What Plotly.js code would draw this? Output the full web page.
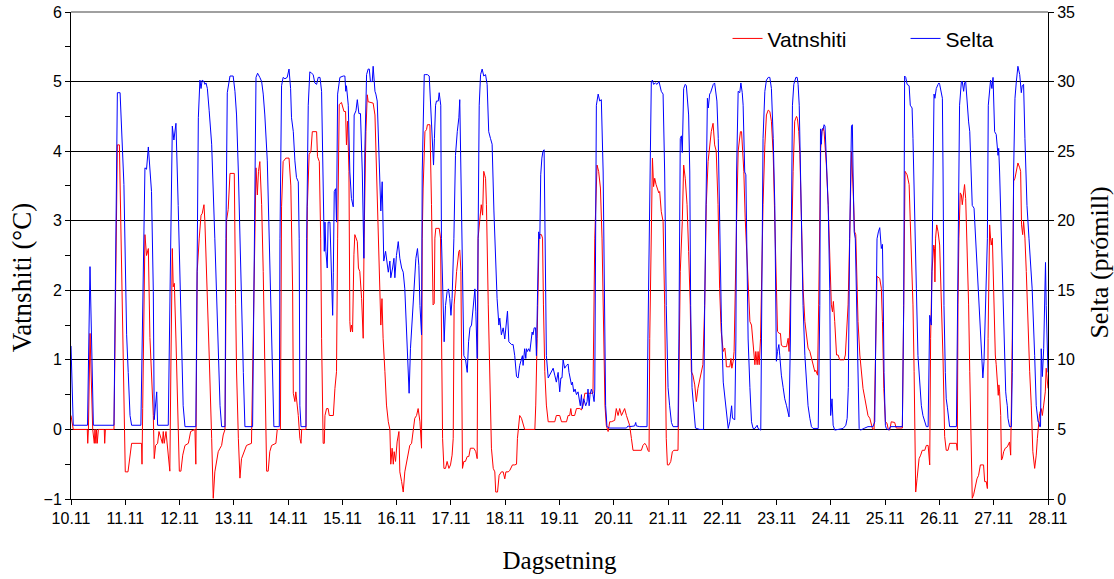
<!DOCTYPE html>
<html>
<head>
<meta charset="utf-8">
<script src="https://cdn.plot.ly/plotly-3.0.1.min.js"></script>
<style>
  html, body { margin: 0; padding: 0; background: #fff; }
  #chart { width: 1114px; height: 579px; }
</style>
</head>
<body>
<div id="chart"></div>
<script>
// x = hours since 10.11 00:00
const dayLabels = ['10.11', '11.11', '12.11', '13.11', '14.11', '15.11', '16.11', '17.11', '18.11', '19.11',
                   '20.11', '21.11', '22.11', '23.11', '24.11', '25.11', '26.11', '27.11', '28.11'];

// Vatnshiti (°C) [hour, value]
const vatnshitiReadings = [
  [0, 0.2], [1, 0], [7.2, 0], [7.4, -0.2], [7.7, 0], [8.4, 1.38], [9.6, 0], [10.3, -0.2], [10.6, 0], [11, -0.2],
  [11.3, 0], [11.6, -0.2], [12.1, 0], [14.7, 0], [14.9, -0.2], [15.2, 0], [19, 0], [20.5, 4.09], [21.4, 4.09],
  [22.4, 2.03], [23.1, 1.2], [24, -0.61], [25.2, -0.61], [26.1, -0.32], [26.8, -0.2], [31.2, -0.2], [31.4, -0.5],
  [31.7, 0.3], [32.7, 2.8], [33.4, 2.5], [34.2, 2.6], [34.9, 1.32], [36.4, 0.2], [36.8, -0.42], [37.4, -0.23],
  [38.3, -0.2], [38.9, -0.03], [39.8, -0.13], [40.4, -0.2], [40.8, -0.03], [41.2, -0.2], [42, -0.03], [42.6, -0.22],
  [43.7, -0.6], [44.2, 1.0], [44.8, 2.6], [45.2, 2.05], [45.7, 2.1], [46.4, 1.3], [47.9, -0.6], [48.6, -0.6],
  [49.4, -0.37], [50.4, -0.23], [51.9, -0.2], [52.9, -0.03], [54.8, 0], [55.2, -0.5], [55.8, 2.27], [56.7, 2.75],
  [57.5, 3.08], [58, 3.1], [58.8, 3.23], [59.2, 2.99], [60, 2.27], [61.1, 1.07], [62.2, -0.13], [62.9, -0.99],
  [63.6, -0.61], [64.4, -0.42], [65.1, -0.32], [65.9, -0.27], [66.6, -0.23], [67.3, -0.08], [68.1, 0], [68.8, 3.01],
  [69.5, 3.16], [70.3, 3.68], [72.2, 3.68], [72.8, 1.8], [73.2, 0.84], [74, -0.13], [74.7, -0.7], [75.4, -0.42],
  [76.2, -0.35], [76.9, -0.27], [77.6, -0.23], [79.8, -0.2], [80.6, 1.3], [81.3, 3.23], [81.8, 3.76], [82.4, 3.37],
  [82.9, 3.71], [83.5, 3.85], [84.3, 3.23], [85, 2.27], [85.7, 0.84], [86.5, -0.6], [87.2, -0.6], [87.9, -0.32],
  [88.7, -0.23], [90.6, -0.2], [91.2, 0], [92.6, 0], [93.1, 3.2], [93.8, 3.85], [95, 3.9], [96.4, 3.9],
  [97.2, 3.5], [98, 2.0], [98.3, 0.52], [99, 0.4], [99.4, 0.54], [100, 0.35], [100.5, 0.2], [101.2, -0.13],
  [101.7, -0.2], [102, 0], [103.9, 0], [104.5, 3.2], [105.3, 3.95], [106.1, 4.0], [106.7, 4.28], [108.6, 4.28],
  [109, 3.92], [109.8, 3.85], [110.4, 2.75], [110.8, 1.31], [111.5, -0.2], [112, -0.2], [112.3, 0.2], [113, 0.3],
  [113.7, 0.3], [114.2, 0.2], [116, 0.2], [116.7, 0.59], [117.4, 0.83], [117.9, 2.75], [118.6, 4.67], [119.6, 4.7],
  [120.7, 4.57], [121.4, 4.57], [121.8, 4.09], [122.3, 4.43], [122.9, 3.71], [123.3, 1.55], [123.6, 1.4], [124, 1.5],
  [124.5, 1.4], [125.1, 2.51], [125.5, 2.8], [126.6, 2.7], [127.1, 2.32], [127.7, 2.27], [128.5, 1.88], [129.2, 1.31],
  [129.6, 2.75], [130.4, 4.28], [131, 4.81], [131.4, 4.71], [133.6, 4.69], [134.4, 4.52], [135.1, 3.71], [135.8, 2.75],
  [136.6, 1.79], [137, 1.5], [137.5, 1.88], [138, 1.31], [138.8, 0.83], [139.5, 0.35], [140.3, 0.11], [141, 0],
  [141.4, -0.5], [142, -0.27], [142.5, -0.5], [142.9, -0.32], [143.5, -0.46], [144.2, -0.18], [145, -0.03],
  [145.4, -0.61], [146.2, -0.75], [146.9, -0.9], [147.6, -0.61], [148.4, -0.46], [149.1, -0.32], [149.8, -0.23],
  [150.6, -0.2], [151.3, 0.01], [152, 0.16], [152.8, 0.2], [153.5, 0.3], [154.3, 0.11], [155, -0.27], [155.3, 2.75],
  [155.7, 3.47], [156.5, 4.28], [157.2, 4.31], [157.6, 4.38], [158.7, 4.38], [159.4, 3.23], [160.1, 1.79],
  [160.6, 1.81], [160.9, 2.75], [161.3, 2.89], [162.8, 2.89], [163.4, 2.75], [163.8, 1.31], [164.3, -0.13],
  [164.9, -0.56], [165.6, -0.56], [166.3, -0.46], [167.1, -0.56], [167.8, -0.51], [168.5, -0.37], [169, -0.13],
  [169.4, 1.79], [170, 2.03], [170.5, 2.27], [171.5, 2.56], [171.9, 2.58], [172.4, 2.27], [172.7, 0.83], [173.1, -0.56],
  [173.7, -0.46], [174.4, -0.46], [175.2, -0.39], [175.9, -0.39], [176.6, -0.27], [178.1, -0.27], [179, -0.32],
  [179.6, -0.42], [180, 2.75], [180.8, 2.99], [181.4, 3.23], [182, 3.08], [182.5, 3.71], [183.3, 3.61], [183.7, 3.23],
  [184.5, 1.79], [185.2, 0.83], [185.9, -0.27], [186.7, -0.56], [187.4, -0.61], [187.8, -0.9], [188.6, -0.9],
  [189.3, -0.66], [190.3, -0.61], [191.1, -0.61], [191.8, -0.71], [192.3, -0.61], [193.3, -0.61], [194, -0.59],
  [195.2, -0.51], [196.2, -0.51], [197, -0.5], [197.4, -0.13], [198, 0.16], [198.4, 0.2], [199.2, 0.16], [199.9, 0.06],
  [200.6, 0], [205.1, 0], [205.5, 0.35], [206.1, 1.31], [206.5, 2.27], [207, 2.8], [208, 2.8], [208.5, 2.75],
  [208.9, 1.79], [209.5, 0.83], [210.2, 0.35], [211, 0.11], [213.9, 0.11], [214.6, 0.2], [216.1, 0.2], [216.9, 0.11],
  [219.1, 0.11], [219.8, 0.2], [220.5, 0.2], [221, 0.3], [221.4, 0.2], [222.7, 0.2], [223.5, 0.3], [225, 0.3],
  [225.7, 0.28], [226.4, 0.35], [227.2, 0.52], [230.8, 0.52], [231.6, 2.75], [232, 3.23], [232.6, 3.8], [233.3, 3.71],
  [234.1, 3.47], [234.8, 2.75], [235.6, 1.31], [236.1, 0.35], [236.7, 0.06], [237.5, -0.03], [238.2, 0.11],
  [238.9, 0.11], [240.4, 0.13], [241.1, 0.3], [241.9, 0.2], [242.6, 0.3], [243.4, 0.2], [244.1, 0.25], [244.8, 0.3],
  [245.6, 0.2], [246.3, 0.11], [247, 0.06], [247.8, -0.13], [248.5, -0.3], [252.2, -0.3], [252.9, -0.23],
  [253.7, -0.2], [254.4, -0.23], [255.1, -0.3], [255.6, -0.32], [255.9, 1.31], [256.6, 3.23], [257.1, 3.9],
  [257.6, 3.49], [258.1, 3.61], [258.7, 3.52], [259.3, 3.47], [259.9, 3.4], [260.3, 3.42], [261, 3.13], [261.8, 2.99],
  [262.5, 1.79], [263.2, -0.13], [263.7, -0.51], [264.4, -0.51], [265.2, -0.46], [265.9, -0.32], [266.6, -0.3],
  [268.4, -0.3], [268.8, 0.83], [269.4, 2.27], [270.3, 2.99], [270.9, 3.8], [271.6, 3.61], [272.4, 3.23], [273.1, 2.56],
  [273.8, 1.79], [274.3, 0.83], [275, 0.78], [275.8, 0.64], [276.5, 0.4], [277.2, 0.59], [278, 0.73], [278.7, 0.83],
  [279.4, 0.93], [280.2, 1.79], [280.9, 3.23], [281.7, 3.85], [282.4, 4.09], [283.1, 4.28], [283.9, 4.4], [284.6, 4.09],
  [285.3, 4.0], [286.1, 3.23], [286.8, 2.03], [287.5, 1.41], [288.4, 1.12], [289.1, 1.17], [289.6, 1.02], [289.8, 0.9],
  [291.3, 0.9], [291.8, 1.02], [292.2, 0.88], [292.8, 0.98], [293.2, 1.12], [293.7, 1.79], [294.3, 2.99], [295, 4.0],
  [295.4, 4.09], [296, 4.28], [296.5, 4.28], [296.9, 4.09], [297.5, 3.71], [298.1, 3.04], [298.7, 2.65], [299.4, 2.03],
  [300.2, 1.55], [300.9, 1.5], [301.6, 1.17], [302.4, 0.93], [302.8, 1.12], [303.4, 0.93], [303.8, 1.12], [304.3, 0.93],
  [304.9, 1.31], [305.3, 2.03], [306, 3.23], [306.8, 4.09], [307.5, 4.52], [308.3, 4.59], [309, 4.57], [309.7, 4.43],
  [310.5, 3.95], [311.2, 2.99], [311.9, 2.03], [312.4, 1.41], [313.1, 1.38], [313.7, 1.38], [314.1, 1.21],
  [314.9, 1.19], [316.4, 1.19], [317.1, 1.31], [317.5, 1.12], [318.1, 1.79], [318.7, 2.75], [319.3, 3.71], [320, 4.43],
  [320.8, 4.5], [321.2, 4.47], [321.8, 4.28], [322.3, 3.95], [323, 2.99], [323.7, 2.03], [324.5, 1.55], [325.2, 1.31],
  [325.9, 1.17], [326.7, 1.12], [327.4, 1.02], [328.1, 0.9], [328.9, 0.83], [329.3, 0.85], [330.1, 0.78], [330.6, 1.79],
  [331.1, 3.23], [331.5, 4.04], [332, 4.28], [332.6, 4.33], [333, 4.28], [333.4, 4.09], [334, 3.8], [334.8, 3.23],
  [335.5, 2.51], [336.2, 1.79], [336.7, 1.69], [337.1, 1.84], [337.7, 1.55], [338.5, 1.07], [339.2, 1.07], [339.9, 1.0],
  [341.1, 1.0], [341.8, 1.0], [342.4, 1.07], [342.9, 1.31], [343.6, 1.79], [344.3, 2.75], [345.1, 4.0], [345.8, 3.47],
  [346.5, 2.84], [347, 2.8], [347.3, 2.27], [348, 1.55], [348.8, 1.07], [349.5, 0.83], [350.2, 0.59], [351, 0.45],
  [351.7, 0.3], [352.4, 0.2], [353.2, 0.16], [353.9, 0.09], [354.4, 0.01], [355.1, 0], [355.8, 1.31], [356.4, 2.2],
  [357.6, 2.17], [358.3, 2.03], [358.8, 1.55], [359.4, 0.59], [360.1, 0.11], [360.8, 0.09], [361.3, 0.01], [362, -0.01],
  [362.7, 0.11], [364.2, 0.1], [364.9, 0.02], [367.6, 0.02], [368.2, 1.79], [368.8, 3.71], [369.7, 3.66], [370.6, 3.52],
  [371.1, 2.99], [371.9, 2.27], [372.3, 1.79], [372.8, 0.83], [373.2, -0.13], [373.5, -0.9], [374.1, -0.71],
  [374.5, -0.51], [375, -0.42], [375.7, -0.37], [376.4, -0.3], [377.5, -0.3], [378.2, -0.23], [379, -0.23],
  [379.7, -0.51], [380.1, 1.31], [380.7, 2.27], [381.5, 2.65], [381.8, 2.6], [382, 2.12], [382.3, 2.75], [382.8, 2.94],
  [383.4, 2.84], [384.1, 2.65], [384.8, 2.0], [385.6, 1.0], [386.3, -0.1], [387, -0.3], [387.8, -0.3], [388.5, -0.2],
  [391.5, -0.2], [391.9, -0.3], [392.2, 1.79], [392.6, 2.75], [393.2, 3.4], [393.7, 3.37], [394.1, 3.23], [394.7, 3.42],
  [395.1, 3.52], [395.6, 3.32], [396.2, 2.75], [396.9, 1.79], [397.4, 0.83], [398.1, -0.51], [398.5, -0.99],
  [399.1, -0.94], [399.9, -0.8], [400.6, -0.71], [401.3, -0.66], [402.1, -0.51], [403.5, -0.51], [404, -0.75],
  [404.7, -0.75], [405.2, -0.85], [405.5, 1.31], [405.9, 2.75], [406.2, 2.94], [406.6, 2.75], [406.9, 2.65],
  [407.4, 2.75], [408, 1.79], [408.7, 1.07], [409.1, 0.93], [409.6, 0.73], [410, 0.49], [410.3, 0.64], [410.6, 0.54],
  [411.1, 0.2], [411.4, -0.44], [411.8, -0.42], [412.4, -0.32], [413.1, -0.27], [414, -0.25], [415, -0.18],
  [415.5, -0.37], [416.2, 1.31], [416.8, 3.57], [417.4, 3.61], [418, 3.71], [418.7, 3.83], [419.5, 3.76], [419.9, 3.71],
  [420.3, 2.94], [420.8, 2.8], [421.2, 2.99], [421.8, 2.75], [422.4, 2.27], [423.1, 1.55], [423.9, 0.83], [424.6, 0.35],
  [425, -0.13], [425.3, -0.32], [426.1, -0.56], [426.8, -0.37], [427.3, -0.13], [427.8, 0.11], [428.3, 0.23],
  [429, 0.3], [429.5, 0.2], [430.1, 0.35], [430.8, 0.54], [431.2, 0.88], [431.5, 0.78], [432, 0.59]
];

// Selta (prómill) [hour, value]
const seltaReadings = [
  [0, 11.0], [1, 5.3], [7.3, 5.3], [8.4, 16.7], [9.9, 5.3], [19, 5.3], [20.5, 29.2], [21.7, 29.2], [23.4, 22.6],
  [24.6, 11.8], [25.3, 9.1], [26.1, 6.0], [26.8, 5.3], [30.9, 5.3], [32.7, 23.8], [33.4, 23.7], [34.2, 25.3],
  [35.6, 22.1], [36.4, 14.9], [36.8, 5.7], [37.9, 7.7], [38.3, 5.3], [43, 5.3], [44.8, 26.8], [45.5, 25.8], [46.4, 27.0],
  [47.4, 21.1], [48.2, 15.1], [48.9, 10.3], [49.6, 6.7], [50.4, 5.2], [55.2, 5.2], [56.3, 27.4], [57, 30.1],
  [57.5, 29.5], [58, 30.1], [58.8, 30.0], [59.2, 29.8], [59.7, 29.9], [60.3, 29.5], [61.1, 27.9], [62.2, 25.5],
  [63.6, 18.7], [65.1, 10.3], [65.9, 6.7], [66.6, 5.2], [68.1, 5.2], [68.5, 18.7], [69.1, 29.2], [70.3, 30.4],
  [71.7, 30.4], [72.5, 29.3], [73.2, 27.6], [74, 23.5], [75, 16.3], [76.2, 9.1], [76.9, 5.2], [80.3, 5.2], [81.8, 30.3],
  [82.5, 30.6], [83.5, 30.3], [84.3, 30.0], [85, 29.1], [85.7, 27.6], [86.8, 24.3], [87.9, 17.5], [89.1, 10.3],
  [89.7, 5.2], [92.1, 5.2], [92.4, 18.7], [93.1, 29.7], [93.8, 30.3], [94.6, 30.2], [95.6, 30.3], [96.4, 30.9],
  [97.1, 29.5], [97.5, 27.4], [98.3, 26.4], [99, 24.3], [99.7, 23.1], [100.5, 22.8], [100.9, 18.7], [101.2, 6.7],
  [101.7, 5.2], [103.9, 5.2], [104.2, 18.7], [104.9, 28.3], [105.6, 30.7], [106.4, 30.6], [107.1, 30.5], [107.8, 29.9],
  [108.6, 29.8], [109.3, 30.3], [110.1, 30.3], [110.8, 29.3], [111.5, 23.5], [112, 17.8], [112.3, 19.9], [112.7, 17.8],
  [113.3, 16.6], [113.7, 19.9], [114.5, 19.9], [115.2, 15.6], [115.7, 13.2], [116, 16.3], [116.4, 22.1], [117, 22.3],
  [117.4, 19.9], [117.9, 29.1], [118.9, 30.3], [120.4, 30.4], [121.1, 30.4], [121.5, 29.3], [121.8, 29.7],
  [122.6, 28.3], [123.3, 23.5], [124, 21.6], [124.8, 21.0], [125.2, 27.6], [126, 27.9], [126.6, 28.7], [127.3, 27.7],
  [128, 27.7], [128.8, 23.5], [129.5, 17.3], [129.9, 24.8], [130.7, 30.5], [131.4, 30.9], [131.9, 30.9], [132.4, 30.0],
  [133.2, 30.0], [133.6, 31.1], [134.4, 29.3], [134.8, 29.1], [135.4, 28.6], [136.1, 24.3], [137, 20.7], [137.6, 22.8],
  [138.3, 17.1], [139.1, 17.8], [139.8, 16.6], [140.3, 16.3], [141, 17.1], [141.4, 15.9], [142.2, 16.6], [142.8, 17.3],
  [143.2, 15.9], [143.9, 17.5], [144.7, 18.5], [145.4, 17.3], [146.2, 16.6], [146.9, 16.3], [147.6, 15.1],
  [148.4, 11.5], [149.1, 7.95], [149.5, 7.6], [150.1, 10.8], [150.9, 13.0], [151.6, 15.1], [152.5, 17.3], [153.2, 18.0],
  [153.8, 16.8], [154.3, 13.9], [155, 11.8], [155.3, 23.5], [155.7, 27.6], [156.2, 30.5], [156.9, 30.5], [157.6, 30.5],
  [158.4, 30.4], [159, 28.3], [159.7, 25.9], [160.3, 24.0], [160.7, 25.9], [161.2, 28.3], [161.6, 28.6], [162.4, 28.6],
  [162.8, 29.2], [163.1, 28.6], [163.5, 28.3], [163.8, 18.7], [164.6, 12.0], [165, 11.3], [165.6, 13.9], [166.3, 14.9],
  [166.9, 15.1], [167.5, 14.4], [168, 13.2], [168.5, 14.4], [169.3, 18.7], [170, 24.7], [170.8, 26.4], [171.5, 27.4],
  [171.9, 28.7], [172.4, 23.5], [173.1, 13.9], [173.7, 10.3], [174.4, 10.1], [175.2, 9.1], [175.8, 11.3], [176.4, 12.3],
  [177.1, 12.5], [177.8, 13.9], [178.6, 15.1], [179, 13.5], [179.6, 10.1], [180, 18.7], [180.5, 28.3], [181.1, 30.5],
  [181.8, 30.9], [182.5, 30.4], [183.3, 30.5], [184, 29.8], [184.7, 26.4], [185.5, 25.9], [186.2, 25.5], [187, 20.7],
  [187.7, 17.5], [188.4, 14.4], [189.2, 12.5], [189.6, 13.0], [190.3, 11.8], [191.1, 12.3], [191.8, 11.5],
  [192.5, 12.5], [193, 13.5], [193.6, 11.3], [194.8, 11.1], [195.5, 11.1], [196.2, 10.3], [197, 8.8], [197.7, 8.7],
  [198.4, 9.6], [199.2, 10.1], [199.6, 10.3], [199.9, 9.6], [200.2, 10.3], [200.6, 10.8], [201.1, 10.1], [201.4, 10.8],
  [201.8, 10.6], [202.4, 10.8], [202.9, 10.6], [203.3, 11.1], [203.9, 12.0], [204.3, 11.8], [204.8, 12.3],
  [205.4, 12.3], [205.8, 10.3], [206.2, 13.9], [206.8, 19.2], [207.3, 18.7], [207.7, 23.3], [208.2, 24.5], [208.7, 25.0],
  [209.2, 25.1], [209.8, 13.9], [210.2, 10.3], [211, 8.7], [211.7, 8.9], [212.4, 9.1], [213.2, 9.4], [213.9, 8.9],
  [214.6, 8.4], [215.4, 9.1], [216.1, 7.7], [216.6, 8.7], [217.1, 8.7], [217.6, 10.0], [218.3, 9.4], [219.1, 9.6],
  [219.8, 9.7], [220.2, 9.1], [220.8, 8.4], [221.3, 8.2], [221.7, 8.4], [222.3, 7.7], [222.9, 7.9], [223.5, 7.5],
  [224.2, 7.7], [224.7, 7.2], [225.2, 6.7], [225.7, 7.5], [226.1, 6.5], [226.7, 7.2], [227.2, 7.0], [227.6, 6.7],
  [228.2, 7.0], [228.6, 7.9], [229.1, 6.7], [229.5, 7.5], [230.1, 7.9], [230.8, 7.5], [231.3, 7.0], [231.6, 7.9],
  [232.3, 28.3], [233.1, 29.1], [233.8, 28.6], [234.5, 28.7], [235.3, 23.5], [235.9, 13.9], [236.4, 6.7], [237, 5.2],
  [238.2, 5.1], [245.6, 5.1], [246.3, 5.25], [247, 5.2], [249.2, 5.25], [249.7, 5.5], [250, 5.25], [251.5, 5.2],
  [254.7, 5.2], [255.1, 11.5], [255.9, 23.5], [256.6, 30.0], [257.1, 30.1], [257.6, 29.8], [258.4, 29.9], [259.1, 29.8],
  [260, 30.0], [260.6, 29.5], [261, 29.3], [261.8, 29.1], [262.5, 23.5], [263.2, 13.9], [264, 8.0], [264.7, 6.7],
  [265.5, 5.5], [266.2, 5.2], [268.4, 5.2], [268.8, 11.5], [269.4, 25.9], [269.9, 26.1], [270.3, 24.9], [270.9, 29.5],
  [271.6, 29.8], [272.1, 29.7], [272.5, 28.8], [273.1, 27.6], [273.6, 23.5], [274, 13.9], [274.6, 8.0], [275.3, 6.3],
  [276.1, 5.1], [278, 5.0], [279.7, 5.0], [280.2, 13.9], [280.9, 23.5], [281.4, 28.8], [281.8, 28.1], [282.4, 29.1],
  [282.8, 29.2], [283.4, 29.5], [284, 29.8], [284.6, 29.9], [285, 29.3], [285.6, 28.6], [286.2, 25.9], [286.8, 18.7],
  [287.6, 12.7], [288.4, 8.4], [289.1, 7.2], [289.8, 6.0], [290.6, 5.07], [291.3, 5.55], [292.1, 6.7], [292.5, 5.8],
  [293.5, 5.7], [294, 11.5], [294.3, 23.5], [295, 29.3], [295.7, 29.2], [296.2, 29.9], [296.8, 29.2], [297.2, 28.3],
  [297.9, 23.5], [298.4, 23.3], [298.7, 18.7], [299.4, 11.5], [300.2, 8.0], [300.9, 5.55], [301.6, 5.07], [302.4, 5.07],
  [303.4, 5.3], [303.8, 5.07], [305, 4.95], [305.3, 13.9], [306, 25.9], [306.8, 29.3], [307.5, 30.1], [308.3, 30.3],
  [309, 30.3], [309.7, 29.5], [310.5, 25.9], [311.2, 21.1], [311.6, 16.3], [311.9, 9.9], [312.4, 10.6], [313, 11.1],
  [313.4, 10.3], [314.1, 8.9], [314.9, 8.0], [315.6, 7.2], [316.4, 6.7], [317.1, 6.3], [317.5, 5.9], [318.1, 11.5],
  [318.6, 21.1], [319, 28.3], [319.6, 29.8], [320.5, 30.3], [321.1, 30.3], [321.5, 29.8], [322, 28.3], [322.5, 23.5],
  [323, 18.7], [323.7, 13.9], [324.5, 10.3], [325.2, 8.0], [325.9, 6.7], [326.7, 5.8], [327.4, 5.2], [328.1, 5.07],
  [330.4, 5.07], [331.1, 13.9], [331.4, 26.6], [331.8, 25.5], [332.1, 26.6], [332.6, 26.6], [333, 26.9], [333.4, 26.8],
  [334, 24.7], [334.8, 21.1], [335.5, 15.1], [335.9, 6.0], [336.5, 7.2], [337, 5.3], [337.7, 4.95], [341.4, 5.07],
  [342.6, 5.3], [343.2, 5.8], [343.7, 8.0], [344.3, 18.7], [345.1, 26.8], [345.5, 26.9], [345.8, 23.5], [346.3, 19.2],
  [346.8, 18.7], [347.3, 13.9], [348, 9.1], [348.5, 5.07], [349.1, 4.95], [350.2, 5.07], [351, 5.1], [352.4, 5.2],
  [354.6, 5.2], [355.4, 5.55], [355.8, 11.5], [356.4, 18.7], [357, 19.2], [357.6, 19.5], [358.3, 18.0], [358.8, 18.3],
  [359.1, 15.1], [359.5, 9.1], [360.1, 5.3], [360.5, 5.07], [361.7, 4.95], [362.3, 5.2], [367.6, 5.2], [368.2, 13.9],
  [368.6, 30.4], [369.1, 30.3], [369.7, 29.8], [370.6, 29.7], [371.1, 28.3], [371.9, 28.1], [372.3, 25.9], [373.1, 21.1],
  [373.8, 15.1], [374.5, 10.3], [375.3, 8.0], [376, 6.7], [376.7, 6.0], [377.5, 5.55], [378.2, 5.2], [379, 5.2],
  [379.7, 13.2], [380.4, 12.5], [380.9, 18.7], [381.6, 29.1], [382, 28.8], [382.6, 29.5], [383.4, 29.8], [383.8, 29.9],
  [384.1, 29.8], [384.8, 29.3], [385.3, 28.8], [385.6, 23.5], [386, 13.9], [386.6, 9.1], [387, 7.2], [387.5, 6.6],
  [388.1, 5.55], [388.5, 5.2], [391.5, 5.2], [391.9, 11.5], [392.5, 23.5], [392.9, 28.3], [393.7, 30.0], [394.1, 30.0],
  [394.7, 29.3], [395.1, 29.9], [395.6, 30.0], [396.2, 28.3], [396.9, 27.1], [397.4, 26.4], [398.1, 23.5], [398.5, 21.1],
  [399.3, 20.9], [400, 18.7], [400.7, 16.3], [401.5, 14.4], [402.1, 12.5], [402.7, 9.6], [403.2, 8.7], [403.7, 9.9],
  [404.1, 12.7], [404.7, 14.7], [405.2, 18.7], [405.6, 28.3], [406.2, 29.8], [406.6, 30.1], [407.2, 29.5], [407.7, 30.3],
  [408.4, 26.4], [409.1, 26.2], [409.9, 24.7], [410.2, 25.2], [410.6, 23.5], [411.4, 18.7], [412.1, 13.9], [412.8, 10.3],
  [413.3, 7.7], [413.6, 7.2], [414, 6.7], [414.3, 5.8], [415, 5.2], [415.8, 5.2], [416.2, 9.1], [416.8, 23.5],
  [417.4, 28.8], [418, 30.0], [418.7, 31.1], [419.5, 30.5], [420.2, 29.2], [420.6, 29.7], [421.2, 29.8], [421.8, 25.9],
  [422.7, 21.1], [423.6, 18.7], [424.3, 16.8], [425, 15.1], [426.1, 10.3], [426.8, 6.7], [427.6, 5.55], [428, 5.55],
  [428.3, 5.2], [428.7, 5.2], [429, 10.8], [429.5, 8.8], [430.1, 10.8], [430.9, 17.0], [431.2, 13.9], [431.7, 10.1],
  [432, 9.1]
];

const tickFont = { family: 'Liberation Sans, Arial, sans-serif', size: 16, color: '#000' };
const serif = 'Liberation Serif, Times New Roman, serif';

const traces = [
  {
    x: vatnshitiReadings.map(d => d[0]),
    y: vatnshitiReadings.map(d => d[1]),
    type: 'scatter', mode: 'lines', name: 'Vatnshiti',
    line: { color: '#ff0000', width: 1 },
    yaxis: 'y'
  },
  {
    x: seltaReadings.map(d => d[0]),
    y: seltaReadings.map(d => d[1]),
    type: 'scatter', mode: 'lines', name: 'Selta',
    line: { color: '#0000ff', width: 1 },
    yaxis: 'y2'
  }
];

const layout = {
  width: 1114, height: 579,
  margin: { l: 71, r: 66, t: 12, b: 80 },
  paper_bgcolor: '#fff', plot_bgcolor: '#fff',
  showlegend: true,
  legend: {
    orientation: 'h', x: 0.672, y: 0.945, xanchor: 'left', yanchor: 'middle',
    font: { family: 'Liberation Sans, Arial, sans-serif', size: 21, color: '#000' },
    bgcolor: 'rgba(0,0,0,0)', entrywidth: 133, entrywidthmode: 'pixels'
  },
  xaxis: {
    range: [0, 432],
    tickvals: dayLabels.map((_, i) => i * 24),
    ticktext: dayLabels,
    ticks: 'outside', ticklen: 5, tickcolor: '#000',
    showline: true, linecolor: '#000', linewidth: 1,
    showgrid: false, zeroline: false,
    tickfont: tickFont,
    title: { text: 'Dagsetning', font: { family: serif, size: 25, color: '#000' }, standoff: 25 }
  },
  yaxis: {
    range: [-1, 6], dtick: 1,
    ticks: 'outside', ticklen: 5, tickcolor: '#000',
    minor: { dtick: 0.5, ticks: 'outside', ticklen: 5, tickcolor: '#000', showgrid: false },
    showline: true, linecolor: '#000', linewidth: 1,
    showgrid: true, gridcolor: '#000', gridwidth: 1, zeroline: false,
    tickfont: tickFont
  },
  yaxis2: {
    range: [0, 35], dtick: 5, overlaying: 'y', side: 'right',
    ticks: 'outside', ticklen: 5, tickcolor: '#000',
    showline: true, linecolor: '#000', linewidth: 1,
    showgrid: false, zeroline: false,
    tickfont: tickFont
  },
  annotations: [
    { text: 'Vatnshiti (°C)', xref: 'paper', yref: 'paper', x: -0.0502, y: 0.455, textangle: -90,
      showarrow: false, xanchor: 'center', yanchor: 'middle', font: { family: serif, size: 27, color: '#000' } },
    { text: 'Selta (prómill)', xref: 'paper', yref: 'paper', x: 1.053, y: 0.485, textangle: -90,
      showarrow: false, xanchor: 'center', yanchor: 'middle', font: { family: serif, size: 26, color: '#000' } }
  ],
  shapes: [
    { type: 'line', xref: 'paper', yref: 'paper', x0: 0, x1: 1, y0: 1, y1: 1, line: { color: '#808080', width: 1.5 } }
  ]
};

Plotly.newPlot('chart', traces, layout, { displayModeBar: false, staticPlot: true });
</script>
</body>
</html>
